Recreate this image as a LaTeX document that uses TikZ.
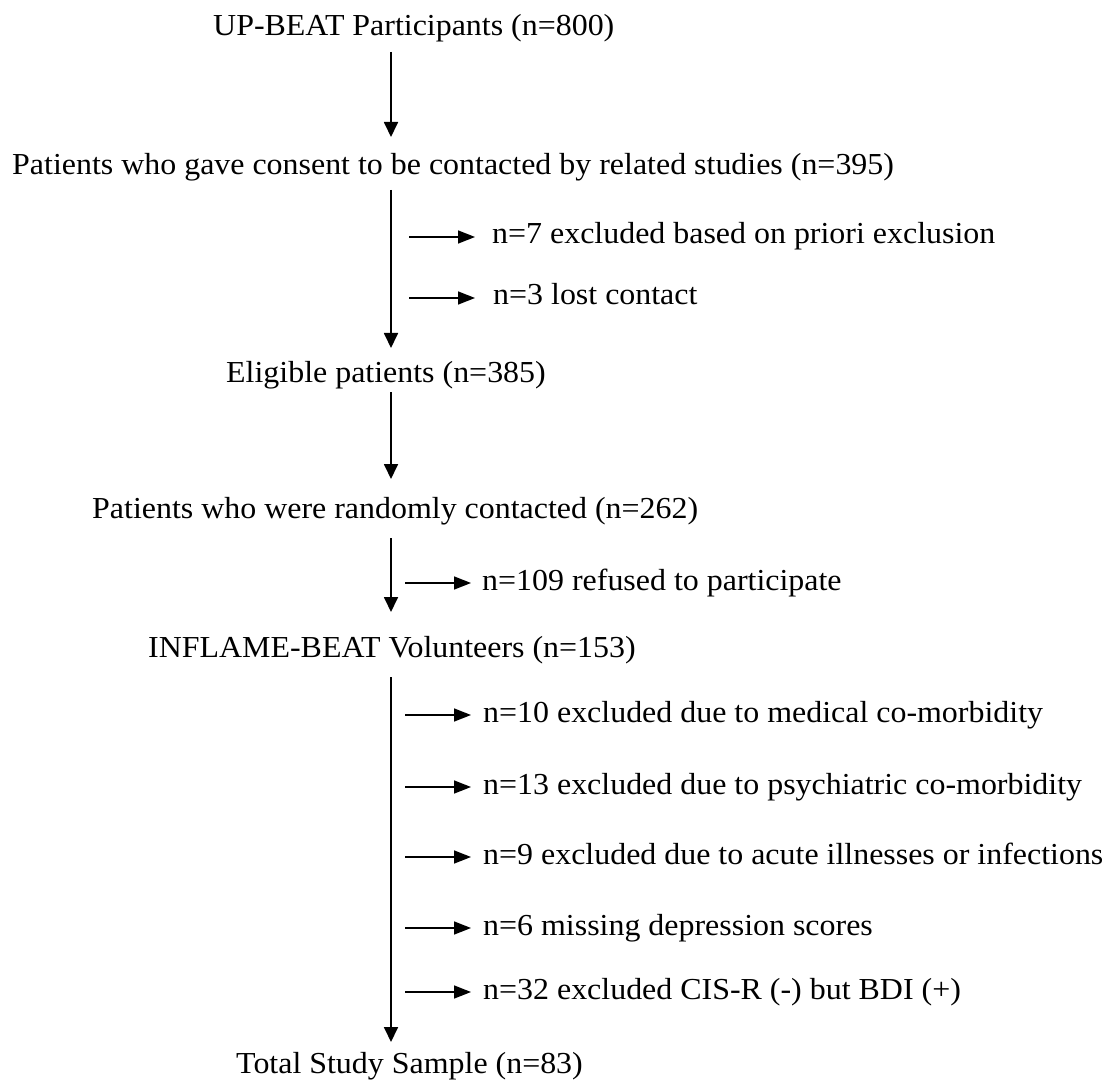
\documentclass[tikz,border=0pt]{standalone}
\usepackage{fontspec}
\setmainfont{Liberation Serif}[FakeStretch=1.047]
\usetikzlibrary{arrows.meta}
\begin{document}
\begin{tikzpicture}[x=1pt,y=-1pt,
  lbl/.style={anchor=base west,inner sep=0pt,font=\fontsize{30.5}{36}\selectfont},
  flow/.style={line width=1.8pt,-{Triangle[length=15pt,width=14pt]}},
  side/.style={line width=1.6pt,-{Triangle[length=17pt,width=13pt]}}]
\useasboundingbox (0,0) rectangle (1114,1083);
% main labels
\node[lbl] (t1) at (213,36) {UP-BEAT Participants (n=800)};
\node[lbl] (t2) at (12,175) {Patients who gave consent to be contacted by related studies (n=395)};
\node[lbl] (t3) at (226,382) {Eligible patients (n=385)};
\node[lbl] (t4) at (92,518) {Patients who were randomly contacted (n=262)};
\node[lbl] (t5) at (148,657) {INFLAME-BEAT Volunteers (n=153)};
\node[lbl] (t6) at (236,1073) {Total Study Sample (n=83)};
% side labels
\node[lbl] (e1) at (492,244) {n=7 excluded based on priori exclusion};
\node[lbl] (e2) at (493,305) {n=3 lost contact};
\node[lbl] (e3) at (482,590) {n=109 refused to participate};
\node[lbl] (e4) at (483,722) {n=10 excluded due to medical co-morbidity};
\node[lbl] (e5) at (483,794) {n=13 excluded due to psychiatric co-morbidity};
\node[lbl] (e6) at (483,864) {n=9 excluded due to acute illnesses or infections};
\node[lbl] (e7) at (483,935) {n=6 missing depression scores};
\node[lbl] (e8) at (483,999) {n=32 excluded CIS-R (-) but BDI (+)};
% spine coordinates
\coordinate (a1s) at (391,52);  \coordinate (a1e) at (391,137);
\coordinate (a2s) at (391,190); \coordinate (a2e) at (391,348);
\coordinate (a3s) at (391,392); \coordinate (a3e) at (391,479);
\coordinate (a4s) at (391,538); \coordinate (a4e) at (391,612);
\coordinate (a5s) at (391,677); \coordinate (a5e) at (391,1042);
\draw[flow] (a1s) -- (a1e);
\draw[flow] (a2s) -- (a2e);
\draw[flow] (a3s) -- (a3e);
\draw[flow] (a4s) -- (a4e);
\draw[flow] (a5s) -- (a5e);
% side arrows
\coordinate (s1) at (409,237); \coordinate (s1e) at (475,237);
\coordinate (s2) at (409,298); \coordinate (s2e) at (475,298);
\coordinate (s3) at (405,583); \coordinate (s3e) at (471,583);
\coordinate (s4) at (405,715); \coordinate (s4e) at (471,715);
\coordinate (s5) at (405,787); \coordinate (s5e) at (471,787);
\coordinate (s6) at (405,857); \coordinate (s6e) at (471,857);
\coordinate (s7) at (405,928); \coordinate (s7e) at (471,928);
\coordinate (s8) at (405,992); \coordinate (s8e) at (471,992);
\foreach \i in {1,...,8} {\draw[side] (s\i) -- (s\i e);}
\end{tikzpicture}
\end{document}
